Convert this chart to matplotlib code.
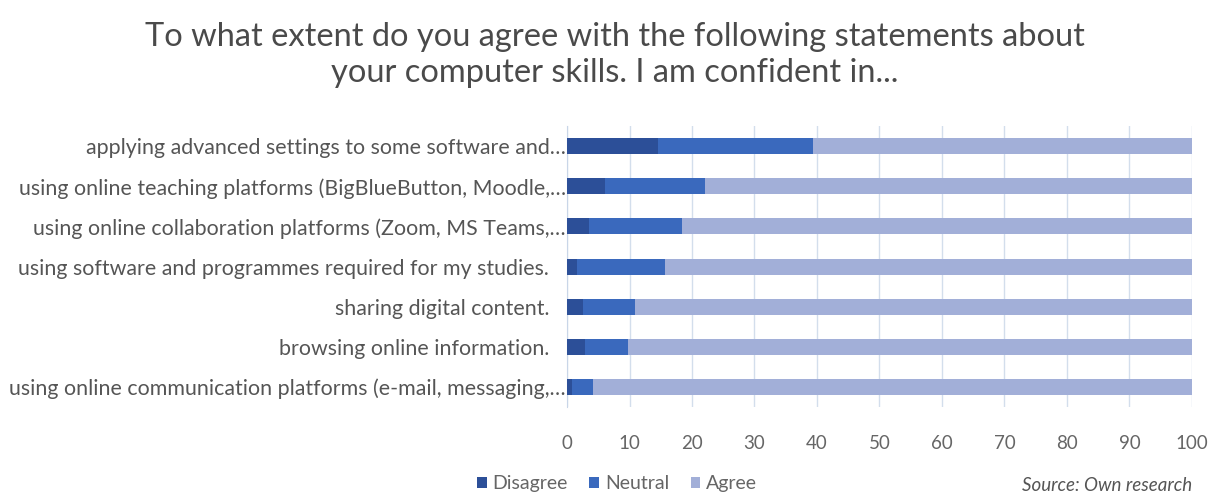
import matplotlib
matplotlib.use("Agg")
import matplotlib.pyplot as plt
import numpy as np

plt.rcParams['font.family'] = ['Lato', 'DejaVu Sans']

categories = [
    "applying advanced settings to some software and\u2026",
    "using online teaching platforms (BigBlueButton, Moodle,\u2026",
    "using online collaboration platforms (Zoom, MS Teams,\u2026",
    "using software and programmes required for my studies.   ",
    "sharing digital content.   ",
    "browsing online information.   ",
    "using online communication platforms (e-mail, messaging,\u2026",
]
disagree = [14.6, 6.1, 3.5, 1.6, 2.5, 2.9, 0.8]
neutral = [24.8, 16.0, 14.9, 14.1, 8.4, 6.9, 3.4]
agree = [60.6, 77.9, 81.6, 84.3, 89.1, 90.2, 95.8]
series_names = ["Disagree", "Neutral", "Agree"]
colors = ["#2C4F98", "#3A69BD", "#A2AFD8"]
xticks = [0, 10, 20, 30, 40, 50, 60, 70, 80, 90, 100]

fig = plt.figure(figsize=(12.1, 4.96), dpi=100)
ax = fig.add_axes([0.4686, 0.179, 0.5165, 0.567])

y = np.arange(len(categories))[::-1]
left = np.zeros(len(categories))
for name, vals, c in zip(series_names, [disagree, neutral, agree], colors):
    ax.barh(y, vals, left=left, height=0.4, color=c, label=name, zorder=3)
    left += np.array(vals)

ax.set_xlim(0, 100)
ax.set_ylim(-0.5, len(categories) - 0.5)
ax.set_yticks(y)
ax.set_yticklabels(categories, fontsize=15.4, color="#555555")
ax.set_xticks(xticks)
ax.set_xticklabels([str(t) for t in xticks], fontsize=13.5, color="#666666")
ax.tick_params(axis="x", length=0, pad=20)
ax.tick_params(axis="y", length=0, pad=1)
ax.grid(axis="x", color="#D3DEEC", linewidth=1, zorder=0)
for s in ["top", "right", "bottom"]:
    ax.spines[s].set_visible(False)
ax.spines["left"].set_color("#C9D6E8")

fig.text(0.508, 0.925, "To what extent do you agree with the following statements about",
         ha="center", va="center", fontsize=23.5, color="#4A4A4A")
fig.text(0.508, 0.853, "your computer skills. I am confident in...",
         ha="center", va="center", fontsize=23.5, color="#4A4A4A")

fig.legend(loc="center", bbox_to_anchor=(0.51, 0.025), ncol=3, frameon=False,
           fontsize=14, handlelength=0.5, handleheight=0.5, handletextpad=0.3,
           columnspacing=1.1, labelcolor="#666666")

fig.text(0.845, 0.022, "Source: Own research", ha="left", va="center",
         fontsize=13.5, style="italic", color="#555555")

fig.savefig("out.png", dpi=100)
